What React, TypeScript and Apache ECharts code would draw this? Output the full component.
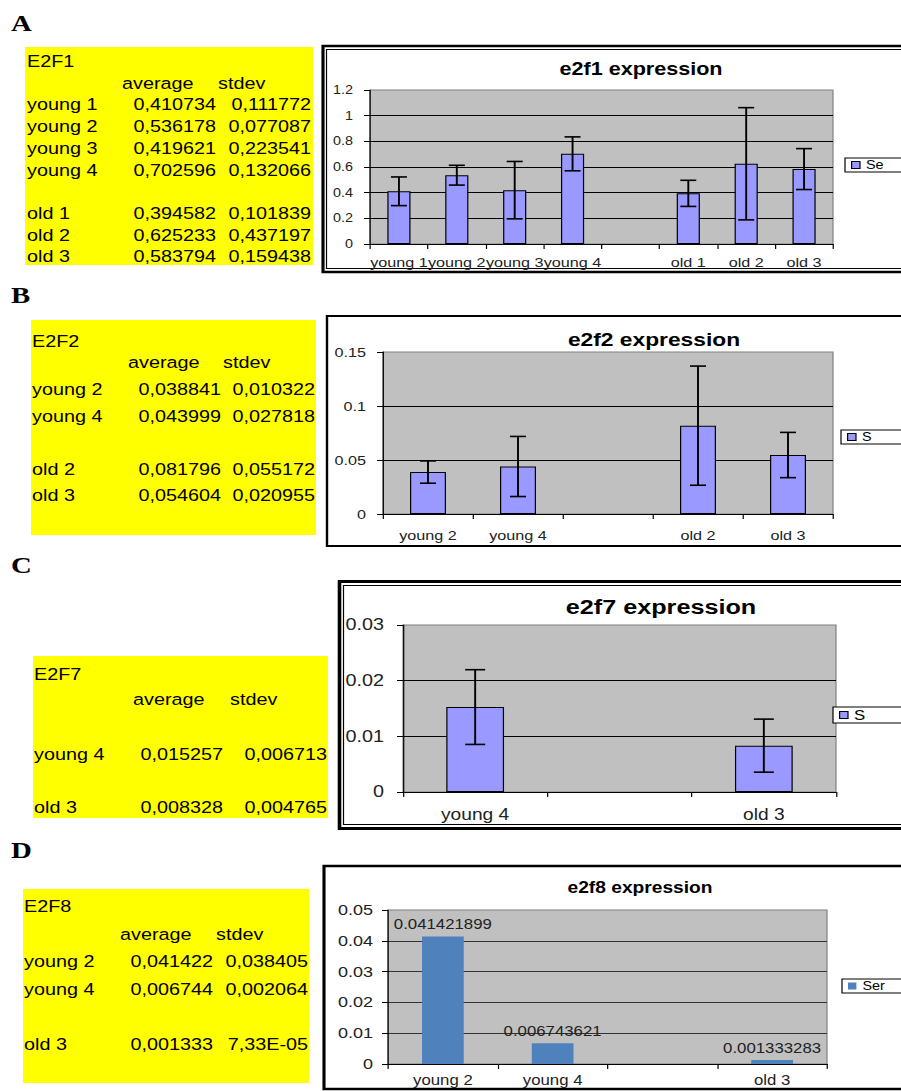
import React, { useEffect, useRef } from 'react';
import * as echarts from 'echarts';

// ---------- page / stretch ----------
const PAGE_W = 901;
const PAGE_H = 1091;
const W = 751; // drawing width, stretched horizontally to PAGE_W
const S = PAGE_W / W;
const X = (v: number) => (v * W) / PAGE_W;

const FONT = '"Liberation Sans", Arial, Helvetica, sans-serif';
const SERIF = '"Liberation Serif", "Times New Roman", serif';

// ---------- data ----------
const e2f1Labels = ['young 1', 'young 2', 'young 3', 'young 4', '', 'old 1', 'old 2', 'old 3'];
const e2f1Avg = [0.410734, 0.536178, 0.419621, 0.702596, null, 0.394582, 0.625233, 0.583794];
const e2f1Sd = [0.111772, 0.077087, 0.223541, 0.132066, null, 0.101839, 0.437197, 0.159438];
const e2f1YTicks = [0, 0.2, 0.4, 0.6, 0.8, 1, 1.2];

const e2f2Labels = ['young 2', 'young 4', '', 'old 2', 'old 3'];
const e2f2Avg = [0.038841, 0.043999, null, 0.081796, 0.054604];
const e2f2Sd = [0.010322, 0.027818, null, 0.055172, 0.020955];
const e2f2YTicks = [0, 0.05, 0.1, 0.15];

const e2f7Labels = ['young 4', '', 'old 3'];
const e2f7Avg = [0.015257, null, 0.008328];
const e2f7Sd = [0.006713, null, 0.004765];
const e2f7YTicks = [0, 0.01, 0.02, 0.03];

const e2f8Labels = ['young 2', 'young 4', '', 'old 3'];
const e2f8Avg = [0.041421899, 0.006743621, null, 0.001333283];
const e2f8Sd = [0.038405, 0.002064, null, 0.0000733];
const e2f8YTicks = [0, 0.01, 0.02, 0.03, 0.04, 0.05];

// legend texts as visible (clipped) in the reference
const legendTexts = ['Se', 'S', 'S', 'Ser'];

// ---------- helpers ----------
function fmtNum(v: number): string {
  if (v < 0.0001) {
    const [m, e] = v.toExponential(2).split('e');
    const n = parseInt(e, 10);
    return m.replace('.', ',') + 'E' + (n < 0 ? '-' : '+') + String(Math.abs(n)).padStart(2, '0');
  }
  return v.toFixed(6).replace('.', ',');
}

type TableLayout = {
  box: [number, number, number, number];
  fs: number;
  labelX: number;
  avgRight: number;
  sdRight: number;
  avgHead: number;
  sdHead: number;
  titleY: number;
  headY: number;
  rowY: number;
  rowStep: number;
};

function txt(text: string, x: number, y: number, align: string, fs: number, family = FONT, weight = 'normal') {
  return {
    type: 'text',
    x: X(x),
    y,
    silent: true,
    style: {
      text,
      fontSize: fs,
      fontFamily: family,
      fontWeight: weight,
      fill: '#000',
      align,
      textAlign: align,
      verticalAlign: 'middle',
      textVerticalAlign: 'middle',
    },
  };
}

function tableElements(title: string, labels: string[], avg: (number | null)[], sd: (number | null)[], L: TableLayout) {
  const els: any[] = [];
  const [x0, y0, x1, y1] = L.box;
  els.push({
    type: 'rect',
    silent: true,
    shape: { x: X(x0), y: y0, width: X(x1) - X(x0), height: y1 - y0 },
    style: { fill: '#ffff00' },
  });
  els.push(txt(title, L.labelX, L.titleY, 'left', L.fs));
  els.push(txt('average', L.avgHead, L.headY, 'left', L.fs));
  els.push(txt('stdev', L.sdHead, L.headY, 'left', L.fs));
  labels.forEach((lab, i) => {
    if (!lab) return;
    const y = L.rowY + i * L.rowStep;
    els.push(txt(lab, L.labelX, y, 'left', L.fs));
    els.push(txt(fmtNum(avg[i] as number), L.avgRight, y, 'right', L.fs));
    els.push(txt(fmtNum(sd[i] as number), L.sdRight, y, 'right', L.fs));
  });
  return els;
}

function frameRect(x0: number, y0: number, x1: number, y1: number, lw: number) {
  return {
    type: 'rect',
    silent: true,
    shape: { x: X(x0), y: y0, width: X(x1) - X(x0), height: y1 - y0 },
    style: { fill: 'none', stroke: '#000', lineWidth: lw },
  };
}

function errData(avg: (number | null)[], sd: (number | null)[]) {
  return avg
    .map((v, i) => (v == null ? null : [i, v, sd[i] as number]))
    .filter((d) => d !== null);
}

function errRender(halfVisual: number) {
  const half = X(halfVisual);
  return (_params: any, api: any) => {
    const i = api.value(0);
    const m = api.value(1);
    const s = api.value(2);
    const top = api.coord([i, m + s]);
    const bot = api.coord([i, m - s]);
    const style = { stroke: '#000', lineWidth: 1.6 };
    return {
      type: 'group',
      children: [
        { type: 'line', shape: { x1: top[0], y1: top[1], x2: bot[0], y2: bot[1] }, style },
        { type: 'line', shape: { x1: top[0] - half, y1: top[1], x2: top[0] + half, y2: top[1] }, style },
        { type: 'line', shape: { x1: bot[0] - half, y1: bot[1], x2: bot[0] + half, y2: bot[1] }, style },
      ],
    };
  };
}

type Panel = {
  labels: string[];
  ticks: number[];
  grid: [number, number, number, number]; // visual left, top, right, bottom
  yFs: number;
  yMargin: number; // visual px
  xFs: number;
  xMargin: number;
  gridColor: string;
};

const panels: Panel[] = [
  { labels: e2f1Labels, ticks: e2f1YTicks, grid: [370, 90, 833, 244], yFs: 12, yMargin: 17, xFs: 13.5, xMargin: 11, gridColor: '#000' },
  { labels: e2f2Labels, ticks: e2f2YTicks, grid: [383, 352, 833, 514], yFs: 13.5, yMargin: 17, xFs: 13.5, xMargin: 14, gridColor: '#000' },
  { labels: e2f7Labels, ticks: e2f7YTicks, grid: [403, 625, 836, 792], yFs: 16.5, yMargin: 19, xFs: 16, xMargin: 15, gridColor: '#000' },
  { labels: e2f8Labels, ticks: e2f8YTicks, grid: [388, 910, 827, 1064], yFs: 15, yMargin: 15, xFs: 14, xMargin: 9, gridColor: '#333' },
];

const legendPos: [number, number, number][] = [
  [845, 158, 12],
  [841, 430, 12],
  [833, 707, 14],
  [842, 979, 12],
];

function buildOption() {
  const grids = panels.map((p) => ({
    left: X(p.grid[0]),
    top: p.grid[1],
    width: X(p.grid[2]) - X(p.grid[0]),
    height: p.grid[3] - p.grid[1],
    show: true,
    backgroundColor: '#c0c0c0',
    borderColor: '#808080',
    borderWidth: 1,
    containLabel: false,
    outerBoundsMode: 'none',
  }));

  const xAxes = panels.map((p, i) => ({
    type: 'category',
    gridIndex: i,
    data: p.labels,
    boundaryGap: true,
    axisLine: { show: true, lineStyle: { color: '#000', width: 1 } },
    axisTick: { show: true, length: 5, interval: 0, lineStyle: { color: '#000' } },
    axisLabel: { interval: 0, fontSize: p.xFs, fontFamily: FONT, color: '#222', margin: p.xMargin },
    splitLine: { show: false },
  }));

  const yAxes = panels.map((p, i) => {
    const step = p.ticks[1] - p.ticks[0];
    return {
      type: 'value',
      gridIndex: i,
      min: p.ticks[0],
      max: p.ticks[p.ticks.length - 1],
      interval: step,
      axisLine: { show: true, lineStyle: { color: '#000', width: 1 } },
      axisTick: { show: true, length: 5, lineStyle: { color: '#000' } },
      axisLabel: {
        fontSize: p.yFs,
        fontFamily: FONT,
        color: '#222',
        margin: X(p.yMargin),
        formatter: (v: number) => String(parseFloat(v.toFixed(6))),
      },
      splitLine: { show: true, showMaxLine: false, lineStyle: { color: p.gridColor, width: 1 } },
    };
  });

  const barStyle = { color: '#9999ff', borderColor: '#000', borderWidth: 1 };

  const series: any[] = [
    { type: 'bar', name: 'Series1', xAxisIndex: 0, yAxisIndex: 0, data: e2f1Avg, barWidth: '40%', itemStyle: barStyle },
    { type: 'custom', xAxisIndex: 0, yAxisIndex: 0, data: errData(e2f1Avg, e2f1Sd), renderItem: errRender(8), encode: { x: 0, y: 1 }, z: 5, silent: true },
    { type: 'bar', name: 'Series1', xAxisIndex: 1, yAxisIndex: 1, data: e2f2Avg, barWidth: '40%', itemStyle: barStyle },
    { type: 'custom', xAxisIndex: 1, yAxisIndex: 1, data: errData(e2f2Avg, e2f2Sd), renderItem: errRender(8), encode: { x: 0, y: 1 }, z: 5, silent: true },
    { type: 'bar', name: 'Series1', xAxisIndex: 2, yAxisIndex: 2, data: e2f7Avg, barWidth: '40%', itemStyle: barStyle },
    { type: 'custom', xAxisIndex: 2, yAxisIndex: 2, data: errData(e2f7Avg, e2f7Sd), renderItem: errRender(10), encode: { x: 0, y: 1 }, z: 5, silent: true },
    {
      type: 'bar',
      name: 'Series1',
      xAxisIndex: 3,
      yAxisIndex: 3,
      data: e2f8Avg,
      barWidth: '38%',
      itemStyle: { color: '#4f81bd' },
      label: {
        show: true,
        position: 'top',
        distance: 5,
        fontSize: 14,
        fontFamily: FONT,
        color: '#222',
        formatter: (p: any) => String(p.value),
      },
    },
  ];

  const legendColors = [barStyle, barStyle, barStyle, { color: '#4f81bd', borderColor: '#4f81bd', borderWidth: 0 }];
  const legends = legendPos.map(([lx, ly, fs], i) => ({
    left: X(lx),
    top: ly,
    orient: 'horizontal',
    selectedMode: false,
    backgroundColor: '#fff',
    borderColor: '#000',
    borderWidth: 1,
    borderRadius: 0,
    padding: [1, 60, 1, 5],
    itemWidth: 7,
    itemHeight: 7,
    icon: 'rect',
    formatter: () => legendTexts[i],
    textStyle: { fontSize: fs, fontFamily: FONT, color: '#000' },
    data: [{ name: 'Series1', icon: 'rect', itemStyle: legendColors[i] }],
  }));

  const tableA: TableLayout = { box: [25, 47, 313, 265], fs: 16.5, labelX: 27, avgRight: 216, sdRight: 311, avgHead: 122, sdHead: 218, titleY: 61.6, headY: 83.3, rowY: 105, rowStep: 21.7 };
  const tableB: TableLayout = { box: [31, 320, 316, 535], fs: 16.5, labelX: 32, avgRight: 221, sdRight: 315, avgHead: 128, sdHead: 223, titleY: 342, headY: 363, rowY: 390, rowStep: 26.5 };
  const tableC: TableLayout = { box: [33, 656, 328, 818], fs: 16.5, labelX: 34, avgRight: 223, sdRight: 327, avgHead: 133, sdHead: 230, titleY: 675, headY: 700, rowY: 755, rowStep: 26.5 };
  const tableD: TableLayout = { box: [23, 889, 309, 1083], fs: 16.5, labelX: 24, avgRight: 213, sdRight: 308, avgHead: 120, sdHead: 216, titleY: 907, headY: 935, rowY: 962, rowStep: 27.5 };

  const graphics: any[] = [
    txt('A', 11, 23, 'left', 24, SERIF, 'bold'),
    txt('B', 11, 295, 'left', 24, SERIF, 'bold'),
    txt('C', 11, 565, 'left', 24, SERIF, 'bold'),
    txt('D', 11, 850, 'left', 24, SERIF, 'bold'),
    ...tableElements('E2F1', e2f1Labels, e2f1Avg, e2f1Sd, tableA),
    ...tableElements('E2F2', e2f2Labels, e2f2Avg, e2f2Sd, tableB),
    ...tableElements('E2F7', e2f7Labels, e2f7Avg, e2f7Sd, tableC),
    ...tableElements('E2F8', e2f8Labels, e2f8Avg, e2f8Sd, tableD),
    // chart frames
    frameRect(323, 46, 910, 272, 2.6),
    frameRect(326.5, 49.5, 910, 268.5, 1),
    frameRect(327, 316, 910, 546, 2),
    frameRect(339.5, 581.5, 910, 828.5, 3),
    frameRect(343.5, 585.5, 910, 824.5, 1),
    frameRect(324, 866, 910, 1089, 2.6),
    // chart titles
    txt('e2f1 expression', 641, 69, 'center', 18, FONT, 'bold'),
    txt('e2f2 expression', 654, 339, 'center', 19, FONT, 'bold'),
    txt('e2f7 expression', 661, 607, 'center', 21, FONT, 'bold'),
    txt('e2f8 expression', 640, 888, 'center', 16, FONT, 'bold'),
  ];

  return {
    animation: false,
    backgroundColor: '#fff',
    grid: grids,
    xAxis: xAxes,
    yAxis: yAxes,
    legend: legends,
    series,
    graphic: { elements: graphics },
  };
}

export default function App() {
  const ref = useRef<HTMLDivElement>(null);
  useEffect(() => {
    if (!ref.current) return;
    const chart = echarts.init(ref.current, null, { renderer: 'svg' });
    chart.setOption(buildOption() as any);
    return () => chart.dispose();
  }, []);
  return (
    <div style={{ position: 'fixed', left: 0, top: 0, width: PAGE_W, height: PAGE_H, overflow: 'hidden', background: '#fff' }}>
      <div ref={ref} style={{ width: W, height: PAGE_H, transform: `scaleX(${S})`, transformOrigin: '0 0' }} />
    </div>
  );
}
